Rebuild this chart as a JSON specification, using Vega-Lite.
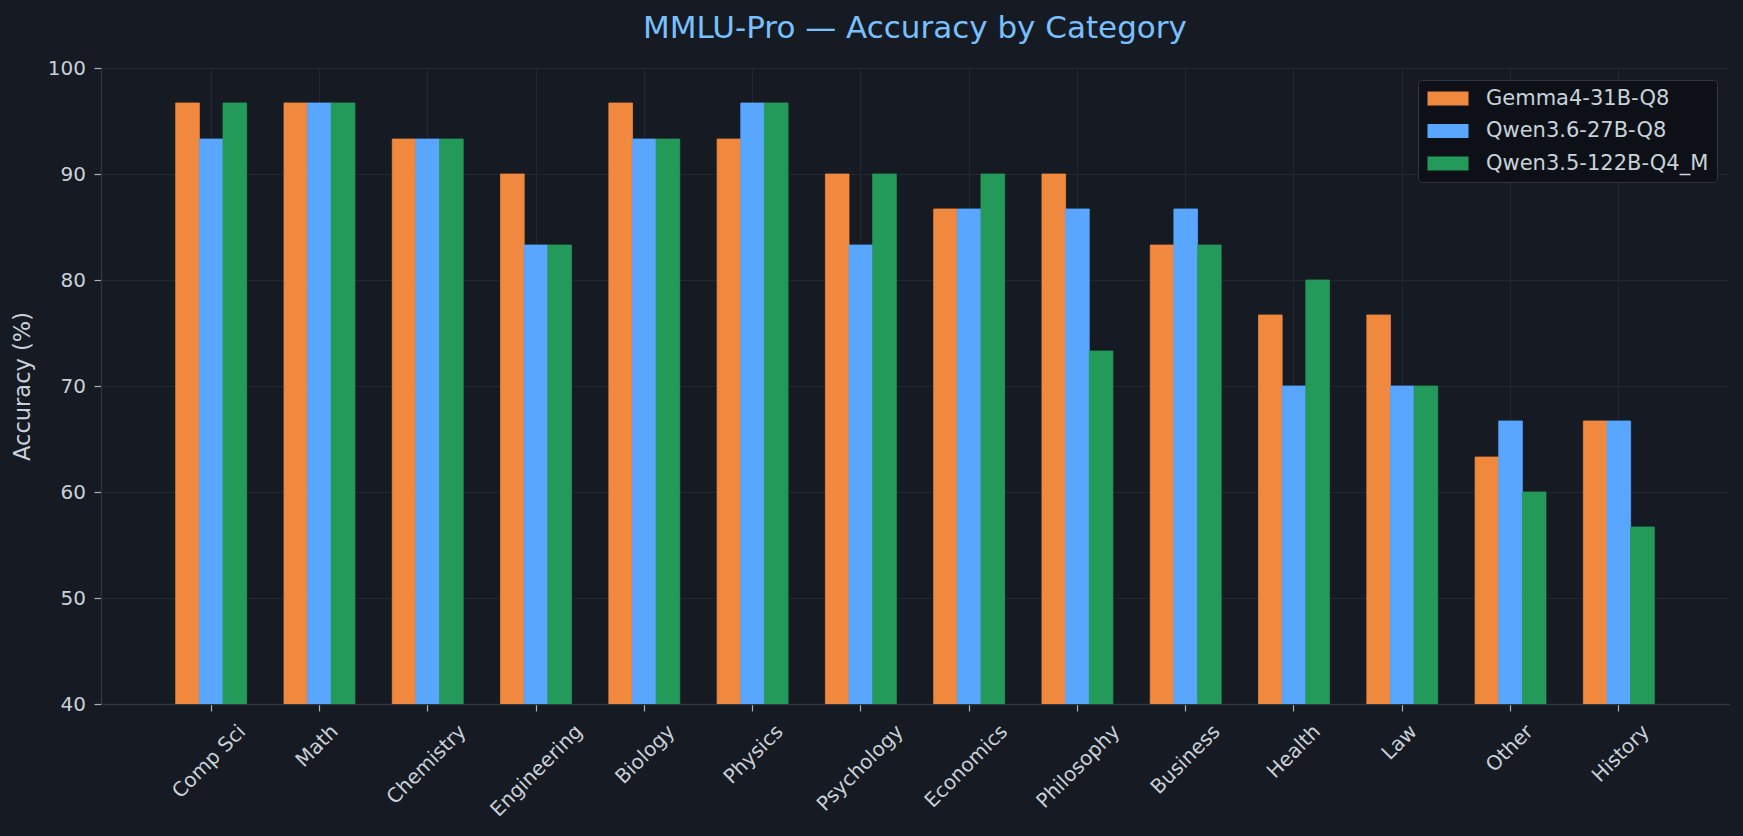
{
  "$schema": "https://vega.github.io/schema/vega-lite/v6.json",
  "width": 1628,
  "height": 636,
  "autosize": {"type": "none"},
  "padding": {"left": 101, "top": 68, "right": 14, "bottom": 132},
  "background": "#161a22",
  "title": {
    "text": "MMLU-Pro — Accuracy by Category",
    "color": "#79c0ff",
    "fontSize": 31,
    "font": "DejaVu Sans",
    "fontWeight": "normal",
    "anchor": "middle",
    "frame": "group",
    "baseline": "alphabetic",
    "offset": -11
  },
  "data": {
    "values": [
      {"category": "Comp Sci", "model": "Gemma4-31B-Q8", "accuracy": 96.7},
      {"category": "Comp Sci", "model": "Qwen3.6-27B-Q8", "accuracy": 93.3},
      {"category": "Comp Sci", "model": "Qwen3.5-122B-Q4_M", "accuracy": 96.7},
      {"category": "Math", "model": "Gemma4-31B-Q8", "accuracy": 96.7},
      {"category": "Math", "model": "Qwen3.6-27B-Q8", "accuracy": 96.7},
      {"category": "Math", "model": "Qwen3.5-122B-Q4_M", "accuracy": 96.7},
      {"category": "Chemistry", "model": "Gemma4-31B-Q8", "accuracy": 93.3},
      {"category": "Chemistry", "model": "Qwen3.6-27B-Q8", "accuracy": 93.3},
      {"category": "Chemistry", "model": "Qwen3.5-122B-Q4_M", "accuracy": 93.3},
      {"category": "Engineering", "model": "Gemma4-31B-Q8", "accuracy": 90.0},
      {"category": "Engineering", "model": "Qwen3.6-27B-Q8", "accuracy": 83.3},
      {"category": "Engineering", "model": "Qwen3.5-122B-Q4_M", "accuracy": 83.3},
      {"category": "Biology", "model": "Gemma4-31B-Q8", "accuracy": 96.7},
      {"category": "Biology", "model": "Qwen3.6-27B-Q8", "accuracy": 93.3},
      {"category": "Biology", "model": "Qwen3.5-122B-Q4_M", "accuracy": 93.3},
      {"category": "Physics", "model": "Gemma4-31B-Q8", "accuracy": 93.3},
      {"category": "Physics", "model": "Qwen3.6-27B-Q8", "accuracy": 96.7},
      {"category": "Physics", "model": "Qwen3.5-122B-Q4_M", "accuracy": 96.7},
      {"category": "Psychology", "model": "Gemma4-31B-Q8", "accuracy": 90.0},
      {"category": "Psychology", "model": "Qwen3.6-27B-Q8", "accuracy": 83.3},
      {"category": "Psychology", "model": "Qwen3.5-122B-Q4_M", "accuracy": 90.0},
      {"category": "Economics", "model": "Gemma4-31B-Q8", "accuracy": 86.7},
      {"category": "Economics", "model": "Qwen3.6-27B-Q8", "accuracy": 86.7},
      {"category": "Economics", "model": "Qwen3.5-122B-Q4_M", "accuracy": 90.0},
      {"category": "Philosophy", "model": "Gemma4-31B-Q8", "accuracy": 90.0},
      {"category": "Philosophy", "model": "Qwen3.6-27B-Q8", "accuracy": 86.7},
      {"category": "Philosophy", "model": "Qwen3.5-122B-Q4_M", "accuracy": 73.3},
      {"category": "Business", "model": "Gemma4-31B-Q8", "accuracy": 83.3},
      {"category": "Business", "model": "Qwen3.6-27B-Q8", "accuracy": 86.7},
      {"category": "Business", "model": "Qwen3.5-122B-Q4_M", "accuracy": 83.3},
      {"category": "Health", "model": "Gemma4-31B-Q8", "accuracy": 76.7},
      {"category": "Health", "model": "Qwen3.6-27B-Q8", "accuracy": 70.0},
      {"category": "Health", "model": "Qwen3.5-122B-Q4_M", "accuracy": 80.0},
      {"category": "Law", "model": "Gemma4-31B-Q8", "accuracy": 76.7},
      {"category": "Law", "model": "Qwen3.6-27B-Q8", "accuracy": 70.0},
      {"category": "Law", "model": "Qwen3.5-122B-Q4_M", "accuracy": 70.0},
      {"category": "Other", "model": "Gemma4-31B-Q8", "accuracy": 63.3},
      {"category": "Other", "model": "Qwen3.6-27B-Q8", "accuracy": 66.7},
      {"category": "Other", "model": "Qwen3.5-122B-Q4_M", "accuracy": 60.0},
      {"category": "History", "model": "Gemma4-31B-Q8", "accuracy": 66.7},
      {"category": "History", "model": "Qwen3.6-27B-Q8", "accuracy": 66.7},
      {"category": "History", "model": "Qwen3.5-122B-Q4_M", "accuracy": 56.7}
    ]
  },
  "mark": {"type": "bar", "clip": true, "strokeWidth": 0.8},
  "encoding": {
    "x": {
      "field": "category",
      "type": "nominal",
      "sort": null,
      "scale": {"paddingInner": 0.345, "paddingOuter": 0.69},
      "axis": {
        "title": null,
        "labelAngle": -45,
        "labelAlign": "right",
        "labelBaseline": "top",
        "labelFont": "DejaVu Sans",
        "labelFontSize": 20,
        "labelColor": "#c9d1d9",
        "labelPadding": 10,
        "labelOffset": {"expr": "length(datum.value) * 3.96 - 7.5"},
        "tickSize": 7,
        "tickColor": "#aab2bb",
        "tickWidth": 1.2,
        "domainColor": "#30363d",
        "domainWidth": 1.3,
        "grid": true,
        "gridColor": "#232830",
        "gridWidth": 1,
        "bandPosition": 0.5
      }
    },
    "xOffset": {
      "field": "model",
      "type": "nominal",
      "sort": ["Gemma4-31B-Q8", "Qwen3.6-27B-Q8", "Qwen3.5-122B-Q4_M"],
      "scale": {"paddingInner": 0, "paddingOuter": 0}
    },
    "y": {
      "field": "accuracy",
      "type": "quantitative",
      "scale": {"domain": [40, 100], "zero": false, "nice": false},
      "axis": {
        "title": "Accuracy (%)",
        "titleFont": "DejaVu Sans",
        "titleFontSize": 22.5,
        "titleFontWeight": "normal",
        "titleColor": "#c9d1d9",
        "titlePadding": 13,
        "values": [40, 50, 60, 70, 80, 90, 100],
        "labelFont": "DejaVu Sans",
        "labelFontSize": 20,
        "labelColor": "#c9d1d9",
        "labelPadding": 8.5,
        "tickSize": 7,
        "tickColor": "#aab2bb",
        "tickWidth": 1.2,
        "domainColor": "#30363d",
        "domainWidth": 1.3,
        "grid": true,
        "gridColor": "#232830",
        "gridWidth": 1
      }
    },
    "stroke": {
      "field": "model",
      "type": "nominal",
      "scale": {
        "domain": ["Gemma4-31B-Q8", "Qwen3.6-27B-Q8", "Qwen3.5-122B-Q4_M"],
        "range": ["#f0883e", "#58a6ff", "#249a5a"]
      },
      "legend": null
    },
    "color": {
      "field": "model",
      "type": "nominal",
      "sort": ["Gemma4-31B-Q8", "Qwen3.6-27B-Q8", "Qwen3.5-122B-Q4_M"],
      "scale": {
        "domain": ["Gemma4-31B-Q8", "Qwen3.6-27B-Q8", "Qwen3.5-122B-Q4_M"],
        "range": ["#f0883e", "#58a6ff", "#249a5a"]
      },
      "legend": {
        "title": null,
        "orient": "top-right",
        "offset": 12,
        "fillColor": "#0d1117",
        "strokeColor": "#30363d",
        "cornerRadius": 4,
        "padding": 8,
        "labelFont": "DejaVu Sans",
        "labelFontSize": 21,
        "labelColor": "#c9d1d9",
        "labelLimit": 400,
        "symbolType": "M-0.9,-0.7H3.2V0.7H-0.9Z",
        "symbolSize": 400,
        "symbolStrokeWidth": 0,
        "symbolOpacity": 1,
        "labelOffset": 39,
        "rowPadding": 10.5
      }
    }
  },
  "config": {"view": {"stroke": null}, "font": "DejaVu Sans"}
}
